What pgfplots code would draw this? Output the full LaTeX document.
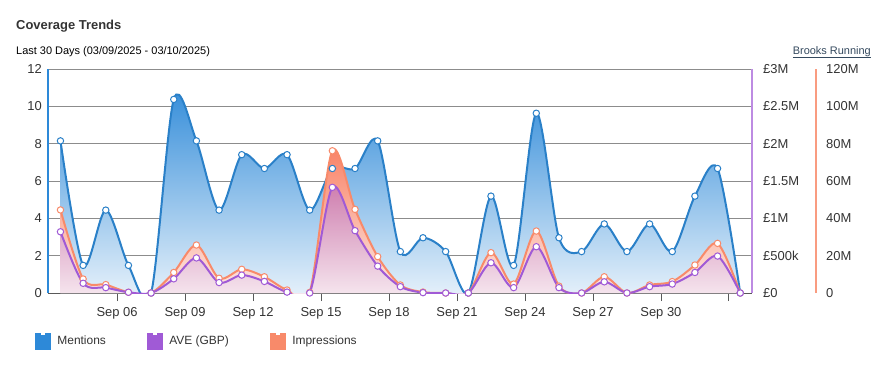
\documentclass[border=0pt]{standalone}
\usepackage{pgfplots}
\pgfplotsset{compat=1.18}
\usepackage{pgfplotstable}
\usepackage{fontspec}
\setmainfont{Liberation Sans}
\definecolor{mblue}{HTML}{2D89D8}
\definecolor{mblueline}{HTML}{2A80C8}
\definecolor{apurple}{HTML}{A05AD6}
\definecolor{iorange}{HTML}{F88A6A}
\definecolor{txt}{HTML}{333333}
\definecolor{gridc}{HTML}{8C8C8C}
\definecolor{linkc}{HTML}{34495E}

% x: day of September (points at mid-day), mentions, AVE in GBP millions, impressions in millions
\pgfplotstableread{
x    mentions ave   impr
3.5  8.15  0.820  44.5
4.5  1.48  0.130  7.5
5.5  4.44  0.072  4.5
6.5  1.48  0.010  0.4
7.5  0     0      0
8.5  10.37 0.190  11.0
9.5  8.15  0.470  25.7
10.5 4.44  0.140  7.9
11.5 7.41  0.240  12.7
12.5 6.67  0.155  8.7
13.5 7.41  0.012  1.6
14.5 4.44  0      0.3
15.5 6.67  1.415  76.2
16.5 6.67  0.835  44.8
17.5 8.15  0.360  19.5
18.5 2.22  0.085  4.3
19.5 2.96  0.005  0.5
20.5 2.22  0      0
21.5 0     0      0
22.5 5.19  0.405  21.6
23.5 1.48  0.072  4.8
24.5 9.63  0.620  33.2
25.5 2.96  0.072  3.7
26.5 2.22  0      0
27.5 3.70  0.150  8.7
28.5 2.22  0      0
29.5 3.70  0.085  4.3
30.5 2.22  0.120  6.1
31.5 5.19  0.275  15.0
32.5 6.67  0.495  26.6
33.5 0     0      0
}\data

\newcommand{\legsym}[1]{\fill[#1] (0bp,-8bp) -- (0bp,8bp) -- (5bp,8bp) -- (5bp,6bp) -- (10bp,6bp) -- (10bp,8bp) -- (15bp,8bp) -- (15bp,-8bp) -- cycle;}

\begin{document}
\begin{tikzpicture}
\useasboundingbox (0,0) rectangle (886bp,-366bp);
\node[anchor=base west, inner sep=0pt, text=txt, font=\fontsize{13}{15}\selectfont\bfseries] at (16bp,-29.5bp) {Coverage Trends};
\node[anchor=base west, inner sep=0pt, text=black, font=\fontsize{11}{13}\selectfont] at (16bp,-54bp) {Last 30 Days (03/09/2025 - 03/10/2025)};
\node[anchor=base east, inner sep=0pt, text=linkc, font=\fontsize{11}{13}\selectfont] at (871bp,-54bp) {\underline{Brooks Running}};

\begin{axis}[
  at={(48bp,-293bp)}, anchor=south west,
  scale only axis, width=704bp, height=224bp,
  xmin=2.95, xmax=34.02, ymin=0, ymax=12,
  axis x line*=bottom, axis y line*=left,
  x axis line style={draw=black!65, line width=0.8bp, -},
  y axis line style={draw=mblue, line width=2bp, -},
  ytick={0,2,...,12}, ymajorgrids,
  grid style={draw=gridc, line width=0.7bp},
  xtick={6,9,...,33},
  xticklabels={Sep 06,Sep 09,Sep 12,Sep 15,Sep 18,Sep 21,Sep 24,Sep 27,Sep 30,},
  xtick align=outside, major tick length=8bp,
  xtick style={draw=black!65, line width=0.8bp},
  ytick style={draw=none},
  tick label style={font=\fontsize{13}{15}\selectfont, text=txt},
  xticklabel style={inner sep=0pt, yshift=-6.5bp},
  yticklabel style={inner sep=0pt, xshift=-6bp},
  /pgf/number format/assume math mode=true,
  legend columns=3,
  legend style={at={(0,0)}, anchor=west, xshift=-13bp, yshift=-48bp,
    draw=none, fill=none, inner sep=0pt, outer sep=0pt,
    font=\fontsize{12}{14}\selectfont, text=txt,
    nodes={inner sep=0pt},
    /tikz/every odd column/.append style={column sep=7bp},
    /tikz/every even column/.append style={column sep=41bp}},
  legend cell align=left,
]
\addlegendimage{legend image code/.code={\legsym{mblue}}}
\addlegendentry{Mentions}
\addlegendimage{legend image code/.code={\legsym{apurple}}}
\addlegendentry{AVE (GBP)}
\addlegendimage{legend image code/.code={\legsym{iorange}}}
\addlegendentry{Impressions}

% areas and lines, series by series
\addplot[forget plot, draw=none, smooth, top color=mblue, bottom color=mblue!4!white]
  table[x=x, y=mentions]{\data} \closedcycle;
\addplot[forget plot, mblueline, line width=2bp, smooth]
  table[x=x, y=mentions]{\data};

\addplot[forget plot, draw=none, smooth, top color=iorange!90!red, bottom color=iorange!8!white,
  y filter/.expression={y/10}]
  table[x=x, y=impr]{\data} \closedcycle;
\addplot[forget plot, iorange, line width=2bp, smooth, y filter/.expression={y/10}]
  table[x=x, y=impr]{\data};

\addplot[forget plot, draw=none, smooth, top color=apurple, bottom color=apurple!8!white, fill opacity=0.5,
  y filter/.expression={y*4}]
  table[x=x, y=ave]{\data} \closedcycle;
\addplot[forget plot, apurple, line width=2bp, smooth, y filter/.expression={y*4}]
  table[x=x, y=ave]{\data};

% markers on top
\addplot[forget plot, only marks, mark=*, mark size=3.2bp, mark options={fill=white, draw=mblueline, line width=1bp}]
  table[x=x, y=mentions]{\data};
\addplot[forget plot, only marks, mark=*, mark size=3.2bp, mark options={fill=white, draw=iorange, line width=1bp},
  y filter/.expression={y/10}]
  table[x=x, y=impr]{\data};
\addplot[forget plot, only marks, mark=*, mark size=3.2bp, mark options={fill=white, draw=apurple, line width=1bp},
  y filter/.expression={y*4}]
  table[x=x, y=ave]{\data};
\end{axis}

% AVE axis (right)
\begin{axis}[
  at={(48bp,-293bp)}, anchor=south west,
  scale only axis, width=704bp, height=224bp,
  xmin=0, xmax=1, ymin=0, ymax=3,
  axis x line=none, axis y line*=right,
  y axis line style={draw=apurple!70!white, line width=1.5bp, -},
  ytick={0,0.5,...,3}, yticklabels={£0,£500k,£1M,£1.5M,£2M,£2.5M,£3M},
  ytick style={draw=none},
  yticklabel style={font=\fontsize{13}{15}\selectfont, text=txt, anchor=west, inner sep=0pt, xshift=11bp},
]
\end{axis}

% Impressions axis (right, outer)
\begin{axis}[
  at={(815bp,-293bp)}, anchor=south west,
  scale only axis, width=1bp, height=224bp,
  xmin=0, xmax=1, ymin=0, ymax=120,
  axis x line=none, axis y line*=right,
  y axis line style={draw=iorange!85!white, line width=1.5bp, -},
  ytick={0,20,...,120}, yticklabels={0,20M,40M,60M,80M,100M,120M},
  ytick style={draw=none},
  yticklabel style={font=\fontsize{13}{15}\selectfont, text=txt, anchor=west, inner sep=0pt, xshift=10bp},
]
\end{axis}
\end{tikzpicture}
\end{document}
